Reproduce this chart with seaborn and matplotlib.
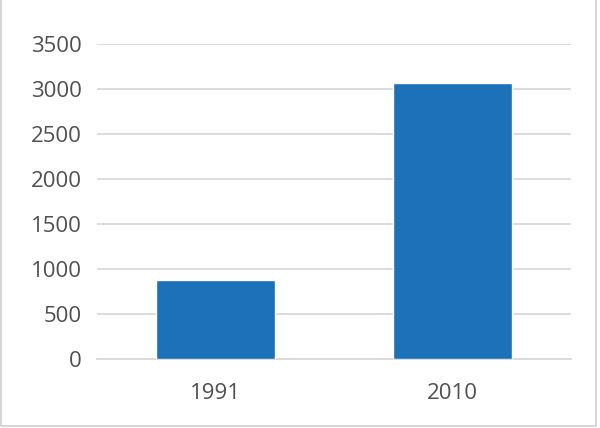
import matplotlib
matplotlib.use("Agg")
import matplotlib.pyplot as plt
import matplotlib.patches as mpatches
import seaborn as sns
import pandas as pd

# data
years = ["1991", "2010"]
values = [878, 3065]

df = pd.DataFrame({"year": years, "value": values})

sns.set_style("white")
plt.rcParams["font.family"] = ["Open Sans", "DejaVu Sans"]

fig = plt.figure(figsize=(6, 4.28), dpi=100)
ax = fig.add_axes([97 / 600, 1 - 359 / 428, 474 / 600, 315 / 428])

sns.barplot(data=df, x="year", y="value", color="#1c71b9", width=0.5,
            saturation=1, ax=ax, zorder=3)

ax.set_ylim(0, 3500)
ax.set_xlim(-0.5, 1.5)
ax.set_yticks(range(0, 3501, 500))
ax.yaxis.grid(True, color="#d9d9d9", linewidth=1.3, zorder=0)
ax.set_axisbelow(True)
for s in ["top", "right", "left"]:
    ax.spines[s].set_visible(False)
ax.spines["bottom"].set_color("#d9d9d9")
ax.spines["bottom"].set_linewidth(1.3)
ax.tick_params(axis="both", length=0, labelsize=16, labelcolor="#505050")
ax.tick_params(axis="y", pad=11)
ax.tick_params(axis="x", pad=17)
ax.set_xlabel("")
ax.set_ylabel("")

# chart border like the spreadsheet frame
fig.patches.append(mpatches.Rectangle((0.5 / 600, 1 - 425.5 / 428), 595 / 600, 1.0,
                                      transform=fig.transFigure, fill=False,
                                      edgecolor="#d0d0d0", linewidth=1.2))

fig.savefig("out.png", dpi=100)
